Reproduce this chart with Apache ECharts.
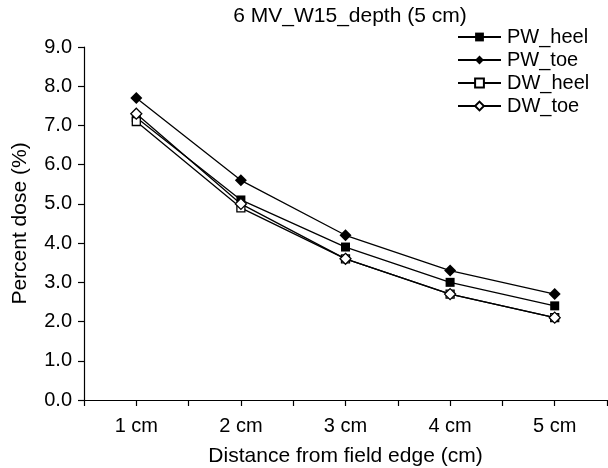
<!DOCTYPE html>
<html>
<head>
<meta charset="utf-8">
<script src="https://cdn.jsdelivr.net/npm/echarts@6/dist/echarts.min.js"></script>
<style>
html,body{margin:0;padding:0;background:#fff;}
#c{width:608px;height:468px;}
</style>
</head>
<body>
<div id="c"></div>
<script>
var categories = ['1 cm', '2 cm', '3 cm', '4 cm', '5 cm'];
var pwHeel = [7.2, 5.1, 3.9, 3.0, 2.4];
var pwToe = [7.7, 5.6, 4.2, 3.3, 2.7];
var dwHeel = [7.1, 4.9, 3.6, 2.7, 2.1];
var dwToe = [7.3, 5.0, 3.6, 2.7, 2.1];
var seriesNames = ['PW_heel', 'PW_toe', 'DW_heel', 'DW_toe'];
var titleText = '6 MV_W15_depth (5 cm)';
var yName = 'Percent dose (%)';
var xName = 'Distance from field edge (cm)';

var FONT = '"Liberation Sans", Arial, sans-serif';
var chart = echarts.init(document.getElementById('c'), null, {renderer: 'canvas'});

function mk(name, data, symbol, size, filled) {
  return {
    name: name,
    type: 'line',
    data: data,
    xAxisIndex: 0,
    yAxisIndex: 0,
    symbol: symbol,
    symbolSize: size,
    showAllSymbol: true,
    lineStyle: {color: '#000', width: 1.3},
    itemStyle: {color: filled ? '#000' : '#fff', borderColor: '#000', borderWidth: filled ? 0 : 1.3},
    emphasis: {disabled: true},
    animation: false
  };
}

var tickSlots = [];
for (var i = 0; i < categories.length * 2; i++) tickSlots.push('');

chart.setOption({
  animation: false,
  textStyle: {fontFamily: FONT, color: '#000'},
  title: {
    text: titleText,
    left: 345, top: 1, textAlign: 'center',
    textStyle: {fontFamily: FONT, fontSize: 21, fontWeight: 'normal', color: '#000'}
  },
  legend: {
    orient: 'vertical',
    left: 452, top: 22,
    itemWidth: 43, itemHeight: 11, itemGap: 3,
    textStyle: {fontFamily: FONT, fontSize: 20, color: '#000', padding: [0,0,0,1]},
    data: seriesNames
  },
  grid: {left: 84, right: 1, top: 47, bottom: 68, containLabel: false, outerBoundsMode: 'none'},
  xAxis: [{
    type: 'category',
    data: categories,
    boundaryGap: true,
    axisLine: {lineStyle: {color: '#000', width: 1.2}},
    axisTick: {show: false},
    axisLabel: {fontFamily: FONT, fontSize: 20, color: '#000', margin: 16},
    name: xName,
    nameLocation: 'middle',
    nameGap: 46,
    nameTextStyle: {fontFamily: FONT, fontSize: 21, color: '#000'}
  }, {
    type: 'category',
    data: tickSlots,
    position: 'bottom',
    boundaryGap: true,
    axisLine: {show: false},
    axisTick: {show: true, length: 6, lineStyle: {color: '#000', width: 1.2}},
    axisLabel: {show: false},
    splitLine: {show: false}
  }],
  yAxis: {
    type: 'value',
    min: 0, max: 9, interval: 1,
    axisLine: {show: true, lineStyle: {color: '#000', width: 1.2}},
    axisTick: {show: true, length: 6, lineStyle: {color: '#000', width: 1.2}},
    splitLine: {show: false},
    axisLabel: {fontFamily: FONT, fontSize: 20, color: '#000', margin: 12,
      formatter: function (v) { return v.toFixed(1); }},
    name: yName,
    nameLocation: 'middle',
    nameGap: 53,
    nameTextStyle: {fontFamily: FONT, fontSize: 21, color: '#000'}
  },
  series: [
    mk(seriesNames[0], pwHeel, 'rect', 9, true),
    mk(seriesNames[1], pwToe, 'diamond', 12, true),
    mk(seriesNames[2], dwHeel, 'rect', 8, false),
    mk(seriesNames[3], dwToe, 'diamond', 11, false)
  ]
});
</script>
</body>
</html>
